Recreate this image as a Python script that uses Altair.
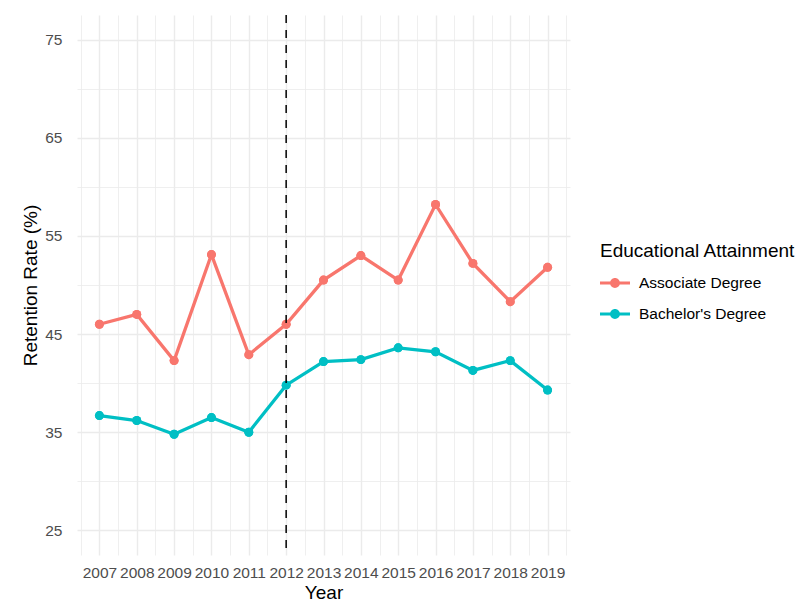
import altair as alt
import pandas as pd

years = [2007, 2008, 2009, 2010, 2011, 2012, 2013, 2014, 2015, 2016, 2017, 2018, 2019]
associate = [46.0, 47.0, 42.3, 53.1, 42.9, 46.0, 50.5, 53.0, 50.5, 58.2, 52.2, 48.3, 51.8]
bachelor = [36.7, 36.2, 34.8, 36.5, 35.0, 39.8, 42.2, 42.4, 43.6, 43.2, 41.3, 42.3, 39.3]
series_names = ["Associate Degree", "Bachelor's Degree"]
series_colors = ["#F8766D", "#00BFC4"]
cutoff_year = [2012]
y_ticks = [25, 30, 35, 40, 45, 50, 55, 60, 65, 70, 75]
x_ticks = [2006.5 + 0.5 * i for i in range(27)]

df = pd.DataFrame({
    "Year": years * 2,
    "Rate": associate + bachelor,
    "Group": [series_names[0]] * len(years) + [series_names[1]] * len(years),
})
cut = pd.DataFrame({"Year": cutoff_year})

FONT = "Liberation Sans"

x_enc = alt.X(
    "Year:Q",
    scale=alt.Scale(domain=[2006.4, 2019.6], nice=False, zero=False),
    axis=alt.Axis(
        title="Year", values=x_ticks, tickCount=200, tickMinStep=0.5,
        labelExpr="datum.value % 1 == 0 ? format(datum.value, 'd') : ''",
        labelOverlap=False, labelFlush=False, labelBound=False,
        grid=True, gridColor="#EBEBEB",
        gridWidth=alt.condition("datum.value % 1 == 0", alt.value(1.4), alt.value(0.8)),
        domain=False, ticks=False, labelPadding=10,
        labelFontSize=15.5, labelColor="#4D4D4D", labelFont=FONT,
        titleFontSize=19, titleColor="black", titleFont=FONT, titleFontWeight="normal",
        titlePadding=3,
    ),
)
y_enc = alt.Y(
    "Rate:Q",
    scale=alt.Scale(domain=[22.5, 77.5], nice=False, zero=False),
    axis=alt.Axis(
        title="Retention Rate (%)", values=y_ticks, tickCount=200, tickMinStep=1,
        labelExpr="datum.value % 10 == 5 ? format(datum.value, 'd') : ''",
        labelOverlap=False,
        grid=True, gridColor="#EBEBEB",
        gridWidth=alt.condition("datum.value % 10 == 5", alt.value(1.4), alt.value(0.8)),
        domain=False, ticks=False, labelPadding=15,
        labelFontSize=15.5, labelColor="#4D4D4D", labelFont=FONT,
        titleFontSize=19, titleColor="black", titleFont=FONT, titleFontWeight="normal",
        titlePadding=4,
    ),
)
color_scale = alt.Scale(domain=series_names, range=series_colors)

symbol_path = ("M-1,-0.1L1,-0.1L1,0.1L-1,0.1Z "
               "M-0.33,0A0.33,0.33,0,1,1,0.33,0A0.33,0.33,0,1,1,-0.33,0Z")
legend = alt.Legend(
    title="Educational Attainment", orient="none",
    legendX=523, legendY=227, padding=0,
    symbolType=symbol_path, symbolSize=900, symbolStrokeWidth=0,
    symbolOpacity=1, rowPadding=7, labelOffset=9,
    titleFontSize=19, titleFont=FONT, titleColor="black", titleLimit=400,
    titleFontWeight="normal", titlePadding=7,
    labelFontSize=15.5, labelFont=FONT, labelColor="black", labelLimit=300,
)
color_enc = alt.Color("Group:N", scale=color_scale, legend=legend)

base = alt.Chart(df)
points = base.mark_point(filled=True, size=80, opacity=1).encode(
    x=x_enc, y=y_enc, color=color_enc,
)
lines = base.mark_line(strokeWidth=3.3).encode(
    x=x_enc, y=y_enc, color=color_enc,
)
rule = alt.Chart(cut).mark_rule(color="black", strokeWidth=1.5, strokeDash=[8, 7]).encode(
    x=x_enc
)

chart = alt.layer(points, lines, points, rule).properties(
    width=493, height=540,
    autosize=alt.AutoSizeParams(type="none"),
    padding={"left": 69, "top": 7, "right": 231, "bottom": 49},
    background="white",
).configure_view(stroke=None).configure_legend(symbolType=symbol_path)

chart.save("out.html", embed_options={"renderer": "svg", "actions": False})
